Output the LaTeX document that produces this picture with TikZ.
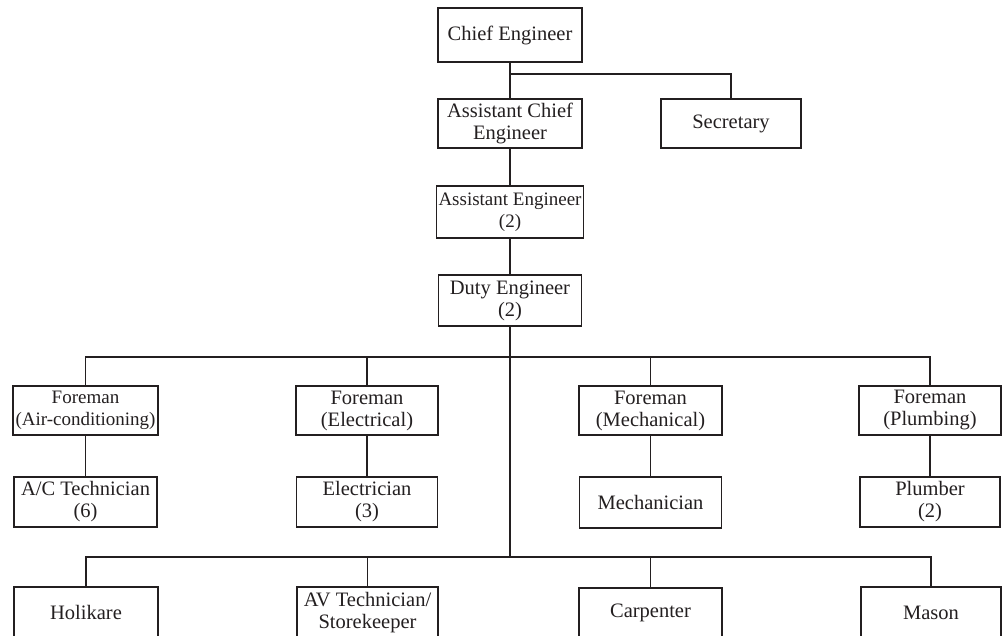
\documentclass[tikz,border=0pt]{standalone}
\usepackage{fontspec}
\setmainfont{Liberation Serif}
\definecolor{ink}{HTML}{231F20}
\begin{document}
\begin{tikzpicture}[x=1pt,y=-1pt,
  box/.style={draw=ink, line width=1.8pt, rectangle, inner sep=0pt, align=center,
    text=ink, font=\fontsize{20.5}{22}\selectfont},
  conn/.style={draw=ink, line width=1.8pt}]
\useasboundingbox (0,0) rectangle (1002,636);
\clip (0,0) rectangle (1002,636);
% nodes
\node[box, minimum width=144pt, minimum height=54pt] (ce) at (510,35) {Chief Engineer};
\node[box, minimum width=144pt, minimum height=49pt] (ace) at (510,123.5) {Assistant Chief\\Engineer};
\node[box, minimum width=140pt, minimum height=49pt] (sec) at (731,123.5) {Secretary};
\node[box, minimum width=147pt, minimum height=52pt, font=\fontsize{19}{22}\selectfont] (ae) at (510,212) {Assistant Engineer\\(2)};
\node[box, minimum width=143pt, minimum height=51pt] (de) at (510,300.5) {Duty Engineer\\(2)};
\node[box, minimum width=145pt, minimum height=49pt, font=\fontsize{19}{22}\selectfont] (fac) at (85.5,410.5) {Foreman\\(Air-conditioning)};
\node[box, minimum width=142pt, minimum height=49pt] (fel) at (367,410.5) {Foreman\\(Electrical)};
\node[box, minimum width=143pt, minimum height=49pt] (fme) at (650.5,410.5) {Foreman\\(Mechanical)};
\node[box, minimum width=142pt, minimum height=49pt] (fpl) at (930,410.5) {Foreman\\(Plumbing)};
\node[box, minimum width=143pt, minimum height=50pt] (act) at (85.5,502) {A/C Technician\\(6)};
\node[box, minimum width=141pt, minimum height=50pt] (ele) at (367,502) {Electrician\\(3)};
\node[box, minimum width=142pt, minimum height=51pt] (mec) at (650.5,502.5) {Mechanician};
\node[box, minimum width=140pt, minimum height=50pt] (plu) at (930,502) {Plumber\\(2)};
\node[box, minimum width=144pt, minimum height=51pt] (hol) at (86,612.5) {Holikare};
\node[box, minimum width=141pt, minimum height=51pt] (avt) at (367.5,612.5) {AV Technician/\\Storekeeper};
\node[box, minimum width=143pt, minimum height=50pt] (car) at (650.5,613) {Carpenter};
\node[box, minimum width=140pt, minimum height=51pt] (mas) at (931,612.5) {Mason};
% junctions
\coordinate (j1) at (510,74);
\coordinate (b1) at (510,357);
\coordinate (b2) at (510,557);
% connectors
\draw[conn] (ce.south) -- (ace.north);
\draw[conn] (j1) -| (sec.north);
\draw[conn] (ace.south) -- (ae.north);
\draw[conn] (ae.south) -- (de.north);
\draw[conn] (de.south) -- (b2);
\draw[conn] (fac.north) |- (b1) -| (fpl.north);
\draw[conn] (fel.north) -- (fel.north |- b1);
\draw[conn] (fme.north) -- (fme.north |- b1);
\draw[conn] (fac.south) -- (act.north);
\draw[conn] (fel.south) -- (ele.north);
\draw[conn] (fme.south) -- (mec.north);
\draw[conn] (fpl.south) -- (plu.north);
\draw[conn] (hol.north) |- (b2) -| (mas.north);
\draw[conn] (avt.north) -- (avt.north |- b2);
\draw[conn] (car.north) -- (car.north |- b2);
\end{tikzpicture}
\end{document}
